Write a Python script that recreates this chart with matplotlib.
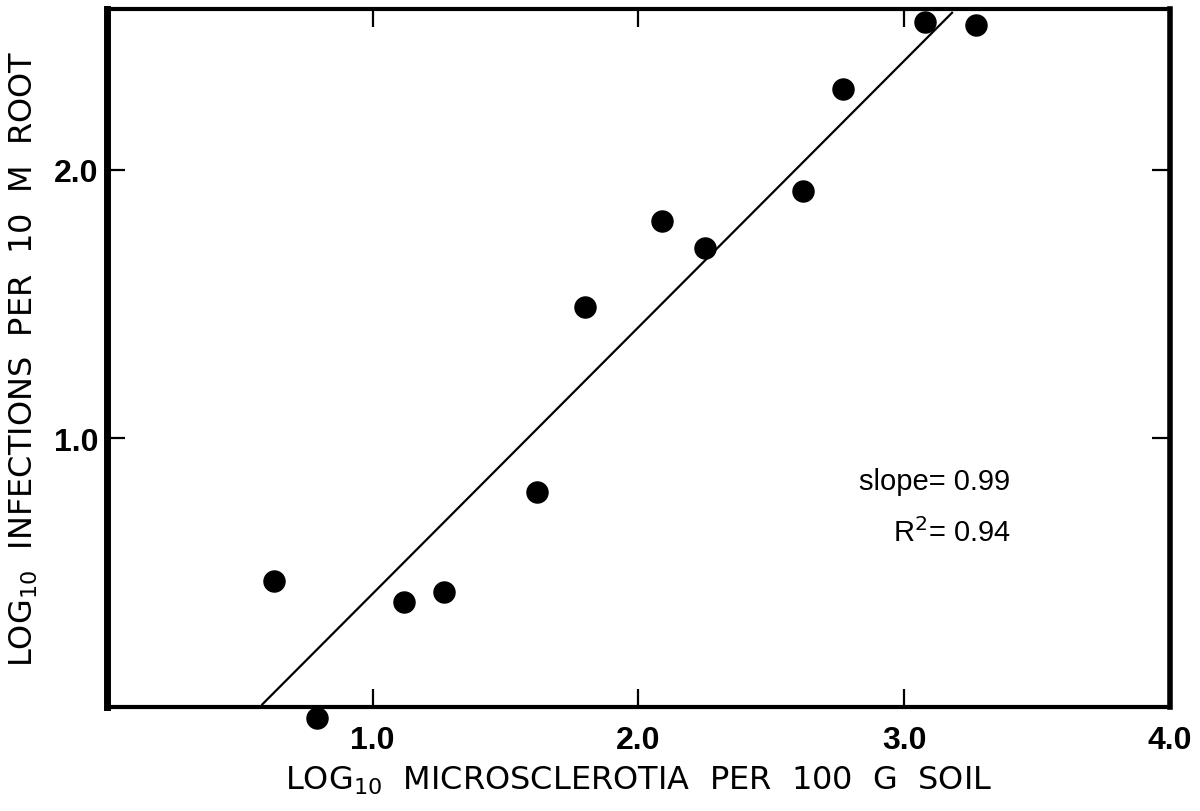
import matplotlib.pyplot as plt

plt.rcParams['font.family'] = ['Liberation Sans', 'DejaVu Sans']
plt.rcParams['mathtext.fontset'] = 'custom'
plt.rcParams['mathtext.rm'] = 'DejaVu Sans'
plt.rcParams['mathtext.it'] = 'DejaVu Sans'

# log10 microsclerotia per 100 g soil vs log10 infections per 10 m root
log_ms = [0.63, 0.79, 1.12, 1.27, 1.62, 1.80, 2.09, 2.25, 2.62, 2.77, 3.08, 3.27]
log_inf = [0.47, -0.04, 0.39, 0.43, 0.80, 1.49, 1.81, 1.71, 1.92, 2.30, 2.55, 2.54]

# fitted line end points
fit_x = [0.585, 3.18]
fit_y = [0.01, 2.585]

fig = plt.figure(figsize=(12, 8.12), dpi=100)
ax = fig.add_axes([0.089, 0.128, 0.886, 0.86])

ax.scatter(log_ms, log_inf, s=230, color='black', zorder=3, clip_on=False)
ax.plot(fit_x, fit_y, color='black', linewidth=1.6)

ax.set_xlim(0, 4.0)
ax.set_ylim(0, 2.6)
ax.set_xticks([1.0, 2.0, 3.0, 4.0])
ax.set_xticklabels(['1.0', '2.0', '3.0', '4.0'])
ax.set_yticks([1.0, 2.0])
ax.set_yticklabels(['1.0', '2.0'])
ax.tick_params(direction='in', length=13, width=1.6, top=True, right=True,
               labelsize=23)
ax.tick_params(axis='x', pad=13)
ax.tick_params(axis='y', pad=6)
for lab in ax.get_xticklabels() + ax.get_yticklabels():
    lab.set_fontweight('bold')

ax.spines['left'].set_linewidth(5)
ax.spines['right'].set_linewidth(4)
ax.spines['top'].set_linewidth(3)
ax.spines['bottom'].set_linewidth(3)

ax.set_xlabel('LOG$_{10}$  MICROSCLEROTIA  PER  100  G  SOIL', fontsize=23,
              family='DejaVu Sans', labelpad=6)
ax.set_ylabel('LOG$_{10}$  INFECTIONS  PER  10  M  ROOT', fontsize=23,
              family='DejaVu Sans', labelpad=10)

ax.text(3.4, 0.84, 'slope= 0.99', fontsize=21, ha='right', va='center')
ax.text(3.4, 0.65, 'R$^2$= 0.94', fontsize=21, ha='right', va='center')

fig.savefig('out.png', dpi=100)
